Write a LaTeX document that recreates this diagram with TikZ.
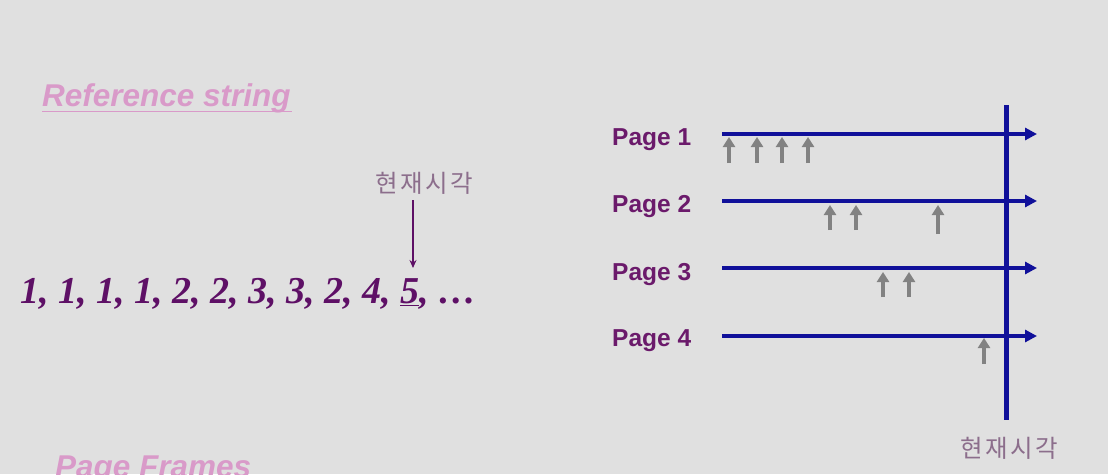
\documentclass[tikz,border=0pt]{standalone}
\usepackage{fontspec}
\setmainfont{Liberation Serif}
\setsansfont{Liberation Sans}
\newfontfamily\krfont[LetterSpace=10]{Noto Sans CJK KR}
\usetikzlibrary{arrows.meta}
\definecolor{bg}{HTML}{E0E0E0}
\definecolor{pinktxt}{HTML}{D99AC9}
\definecolor{seqpurple}{HTML}{5E1066}
\definecolor{pagepurple}{HTML}{6B1A6B}
\definecolor{timeblue}{HTML}{10109A}
\definecolor{markgray}{HTML}{828282}
\definecolor{krgray}{HTML}{8C6E8C}
\tikzset{
  title/.style={anchor=base west, inner sep=0pt, text=pinktxt, font=\fontsize{31.5}{34}\selectfont\sffamily\bfseries\itshape},
  pagelabel/.style={anchor=base west, inner sep=0pt, text=pagepurple, font=\fontsize{24.5}{26}\selectfont\sffamily\bfseries},
  krlabel/.style={inner sep=0pt, text=krgray, font=\fontsize{24.5}{26}\selectfont\krfont},
  timeline/.style={draw=timeblue, line width=3.5pt, -{Triangle[length=12pt,width=12pt]}},
  nowline/.style={draw=timeblue, line width=5pt},
  refmark/.style={draw=markgray, line width=3.5pt, -{Triangle[length=10pt,width=12pt]}},
  pointer/.style={draw=seqpurple, line width=1.2pt, -{Stealth[length=8pt,width=7pt]}}
}
\begin{document}
\begin{tikzpicture}[x=1pt,y=-1pt]
\fill[bg] (0,0) rectangle (1108,474);
\useasboundingbox (0,0) rectangle (1108,474);

% titles
\node[title] (reftitle) at (42,106) {Reference string};
\draw[pinktxt, line width=1.5pt] (42,111.5) -- (292,111.5);
\node[title] (frametitle) at (55,477) {Page Frames};

% reference string
\node[anchor=base west, inner sep=0pt, text=seqpurple, font=\fontsize{38}{40}\selectfont\bfseries\itshape] (seq) at (20,303) {1, 1, 1, 1, 2, 2, 3, 3, 2, 4, \underline{5}, …};
\node[krlabel] (nowtop) at (424,183) {현재시각};
\coordinate (five) at (413,268);
\draw[pointer] (413,200) -- (five);

% page timelines
\foreach \i/\yl/\yb in {1/134/145, 2/201/212, 3/268/280, 4/336/346}{
  \node[pagelabel] (page\i) at (612,\yb) {Page \i};
  \coordinate (s\i) at (722,\yl);
  \coordinate (e\i) at (1037,\yl);
  \draw[timeline] (s\i) -- (e\i);
}
\coordinate (nowA) at (1006,105);
\coordinate (nowB) at (1006,420);
\draw[nowline] (nowA) -- (nowB);
\node[krlabel] (nowbot) at (1009,448) {현재시각};

% references
\foreach \x in {729,757,782,808}{ \draw[refmark] (\x,163) -- (\x,137); }
\foreach \x in {830,856}{ \draw[refmark] (\x,230) -- (\x,205); }
\draw[refmark] (938,234) -- (938,205);
\foreach \x in {883,909}{ \draw[refmark] (\x,297) -- (\x,272); }
\draw[refmark] (984,364) -- (984,338);
\end{tikzpicture}
\end{document}
